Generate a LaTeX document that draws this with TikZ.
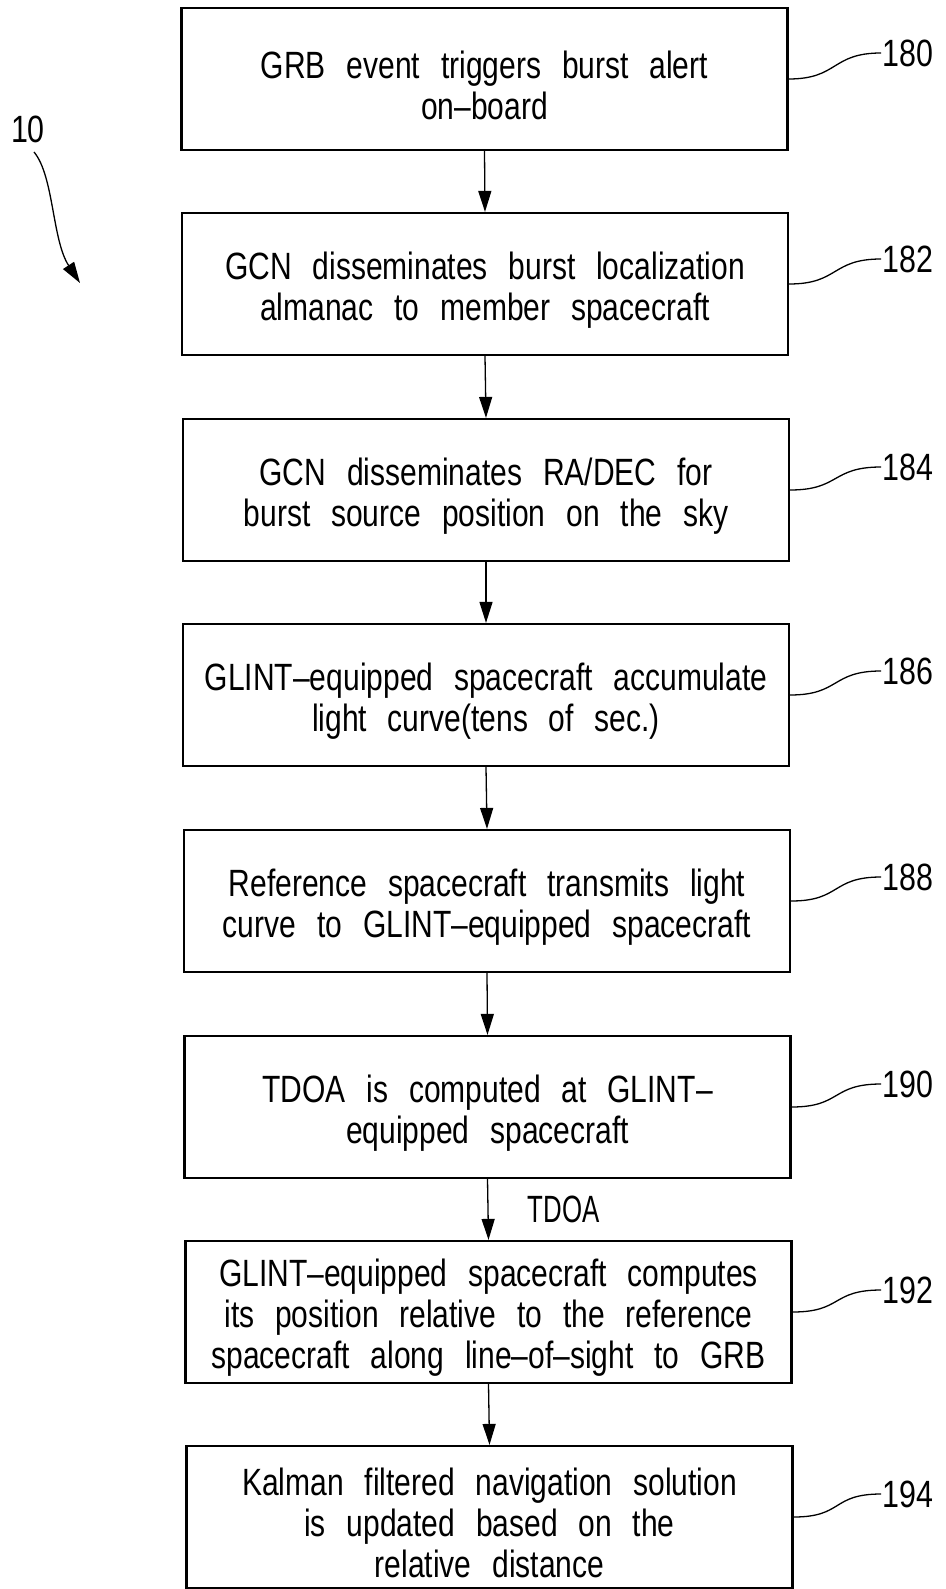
\documentclass[tikz,border=0pt]{standalone}
\usepackage{fontspec}
\newfontfamily\boxfont{Liberation Sans}[FakeStretch=0.79,WordSpace=2.5]
\newfontfamily\tagfont{Liberation Sans}[FakeStretch=0.8]
\newfontfamily\tdoafont{Liberation Sans}[FakeStretch=0.68]
\usetikzlibrary{arrows.meta}

\begin{document}
\begin{tikzpicture}[x=1pt,y=-1pt,
  stepbox/.style={draw, line width=2.2pt, minimum width=606pt,
    minimum height=142pt, inner sep=0pt},
  steptext/.style={font=\boxfont\fontsize{38}{41}\selectfont, align=center,
    inner sep=0pt},
  flow/.style={line width=1.3pt, -{Triangle[length=21pt,width=13pt]}},
  leader/.style={line width=1.3pt},
  tag/.style={font=\tagfont\fontsize{38}{41}\selectfont, inner sep=1pt}]
\useasboundingbox (0,0) rectangle (945,1589);

% process steps: frame, then its text set slightly below centre
\foreach \n/\x/\y/\t in {
  180/484.5/79/{GRB event triggers burst alert\\on–board},
  182/485/284/{GCN disseminates burst localization\\almanac to member spacecraft},
  184/486/490/{GCN disseminates RA/DEC for\\burst source position on the sky},
  186/486/695/{GLINT–equipped spacecraft accumulate\\light curve(tens of sec.)},
  188/487/901/{Reference spacecraft transmits light\\curve to GLINT–equipped spacecraft},
  190/487.5/1107/{TDOA is computed at GLINT–\\equipped spacecraft},
  192/488.5/1312/{GLINT–equipped spacecraft computes\\its position relative to the reference\\spacecraft along line–of–sight to GRB},
  194/489.5/1517/{Kalman filtered navigation solution\\is updated based on the\\relative distance}} {
  \node[stepbox] (s\n) at (\x,\y) {};
  \node[steptext] (s\n t) at ([yshift=-6pt]s\n.center) {\t};
}

% flow between steps
\draw[flow] (s180.south) -- (s182.north);
\draw[flow] (s182.south) -- (s184.north);
\draw[flow] (s184.south) -- (s186.north);
\draw[flow] (s186.south) -- (s188.north);
\draw[flow] (s188.south) -- (s190.north);
\draw[flow] (s190.south) -- node[tag, font=\tdoafont\fontsize{38}{41}\selectfont,
  anchor=west, xshift=38pt] (tdoa) {TDOA} (s192.north);
\draw[flow] (s192.south) -- (s194.north);

% reference numerals with leaders
\foreach \n/\y in {180/53, 182/259, 184/467, 186/671, 188/877, 190/1084, 192/1290, 194/1494} {
  \node[tag, anchor=west] (t\n) at (881,\y) {\n};
  \draw[leader] (s\n.east) .. controls +(50,0) and +(-50,0) .. (t\n.west);
}

% figure numeral
\node[tag] (t10) at (28,129) {10};
\coordinate (p10) at (80,283);
\draw[flow] (34,152) .. controls (54,176) and (52,240) .. (p10);
\end{tikzpicture}
\end{document}
